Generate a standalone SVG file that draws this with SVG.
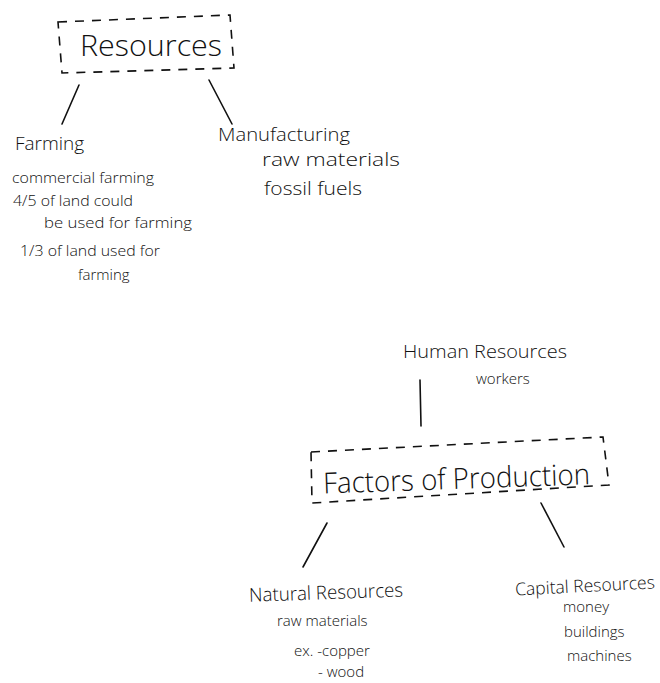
<svg xmlns="http://www.w3.org/2000/svg" width="660" height="683" viewBox="0 0 660 683">
  <style>
    text { font-family: "Open Sans", "Liberation Sans", sans-serif; font-weight: 300; fill: #111; }
    .title { font-size: 29px; }
    .head { font-size: 19px; }
    .note { font-size: 15px; }
    .box { fill: none; stroke: #111; stroke-width: 1.6; stroke-dasharray: 9 8; }
    .link { stroke: #111; stroke-width: 1.6; fill: none; stroke-linecap: round; }
  </style>
  <rect width="660" height="683" fill="#fff"/>

  <g id="connectors">
    <line class="link" x1="79" y1="85" x2="62" y2="124"/>
    <line class="link" x1="209" y1="80" x2="232" y2="124"/>
    <line class="link" x1="420" y1="380" x2="421" y2="426"/>
    <line class="link" x1="327" y1="523" x2="303" y2="567"/>
    <line class="link" x1="541" y1="503" x2="564" y2="547"/>
  </g>

  <g id="resources">
    <path class="box" d="M58 22 L230 15 L234 68 L62 73 Z"/>
    <text class="title" x="80" y="56" textLength="142" lengthAdjust="spacingAndGlyphs">Resources</text>
  </g>

  <g id="farming">
    <text class="head" x="15" y="150">Farming</text>
    <text class="note" x="12" y="183" textLength="142" lengthAdjust="spacingAndGlyphs">commercial farming</text>
    <text class="note" x="13" y="206" textLength="120" lengthAdjust="spacingAndGlyphs">4/5 of land could</text>
    <text class="note" x="44" y="228" textLength="148" lengthAdjust="spacingAndGlyphs">be used for farming</text>
    <text class="note" x="20" y="256" textLength="140" lengthAdjust="spacingAndGlyphs">1/3 of land used for</text>
    <text class="note" x="78" y="280">farming</text>
  </g>

  <g id="manufacturing">
    <text class="head" x="218" y="141" textLength="132" lengthAdjust="spacingAndGlyphs">Manufacturing</text>
    <text class="head" x="262" y="166" textLength="138" lengthAdjust="spacingAndGlyphs">raw materials</text>
    <text class="head" x="264" y="195" textLength="98" lengthAdjust="spacingAndGlyphs">fossil fuels</text>
  </g>

  <g id="human-resources">
    <text class="head" x="403" y="358" textLength="164" lengthAdjust="spacingAndGlyphs">Human Resources</text>
    <text class="note" x="476" y="384">workers</text>
  </g>

  <g id="factors">
    <path class="box" d="M311 452 L603 437 L609 485 L312 503 Z"/>
    <text class="title" x="323" y="489" textLength="267" lengthAdjust="spacingAndGlyphs" transform="rotate(-2 455 480)">Factors of Production</text>
  </g>

  <g id="natural-resources">
    <text class="head" x="249" y="599" textLength="154" lengthAdjust="spacingAndGlyphs" transform="rotate(-2 330 592)">Natural Resources</text>
    <text class="note" x="277" y="626">raw materials</text>
    <text class="note" x="294" y="656">ex. -copper</text>
    <text class="note" x="318" y="677">- wood</text>
  </g>

  <g id="capital-resources">
    <text x="515" y="592" style="font-size:17.5px" transform="rotate(-3 583 584)">Capital Resources</text>
    <text class="note" x="563" y="612">money</text>
    <text class="note" x="564" y="637">buildings</text>
    <text class="note" x="567" y="661">machines</text>
  </g>
</svg>
